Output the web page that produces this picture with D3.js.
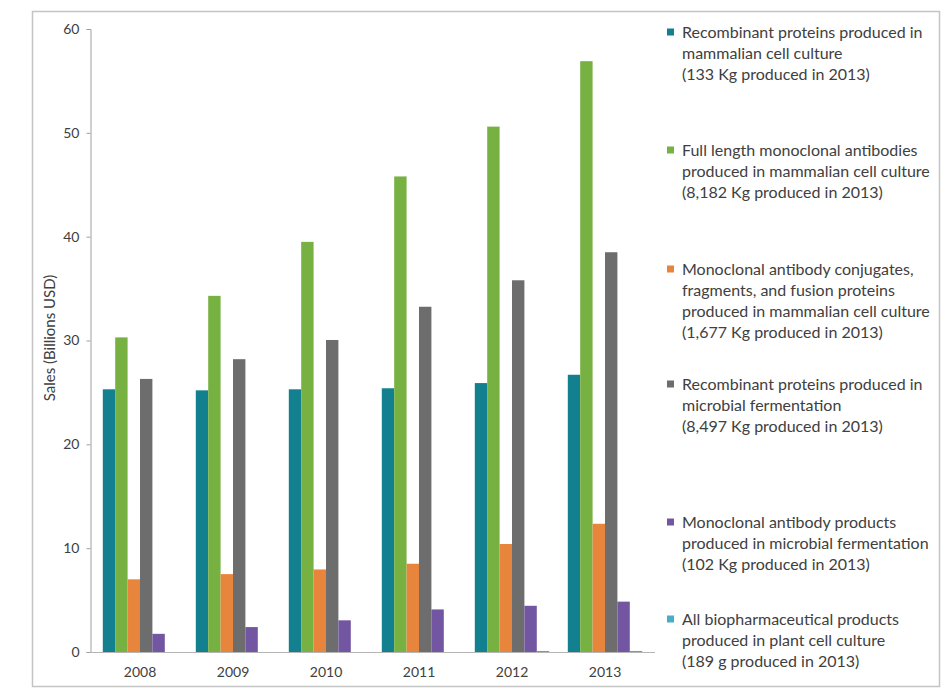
<!DOCTYPE html>
<html>
<head>
<meta charset="utf-8">
<script src="https://cdn.jsdelivr.net/npm/d3@7"></script>
<style>
  html, body { margin: 0; padding: 0; background: #ffffff; }
  svg { display: block; }
  text { font-family: Lato, "Open Sans", "Liberation Sans", sans-serif; fill: #404040; }
</style>
</head>
<body>
<svg id="chart" width="949" height="695"></svg>
<script>
// ---------- data ----------
const years = ["2008", "2009", "2010", "2011", "2012", "2013"];
const yTicks = [0, 10, 20, 30, 40, 50, 60];
const yTitle = "Sales (Billions USD)";

const recombinantMammalian = [25.3, 25.2, 25.3, 25.4, 25.9, 26.7];
const fullLengthMab        = [30.3, 34.3, 39.5, 45.8, 50.6, 56.9];
const mabConjugates        = [7.0, 7.5, 7.95, 8.5, 10.4, 12.35];
const recombinantMicrobial = [26.3, 28.2, 30.05, 33.25, 35.8, 38.5];
const mabMicrobial         = [1.75, 2.4, 3.05, 4.1, 4.45, 4.85];
const plantCell            = [0, 0, 0, 0, 0.1, 0.1];

const seriesLabels = [
  ["Recombinant proteins produced in", "mammalian cell culture", "(133 Kg produced in 2013)"],
  ["Full length monoclonal antibodies", "produced in mammalian cell culture", "(8,182 Kg produced in 2013)"],
  ["Monoclonal antibody conjugates,", "fragments, and fusion proteins", "produced in mammalian cell culture", "(1,677 Kg produced in 2013)"],
  ["Recombinant proteins produced in", "microbial fermentation", "(8,497 Kg produced in 2013)"],
  ["Monoclonal antibody products", "produced in microbial fermentation", "(102 Kg produced in 2013)"],
  ["All biopharmaceutical products", "produced in plant cell culture", "(189 g produced in 2013)"]
];
const seriesColors = ["#12808f", "#77b142", "#e8853c", "#6d6d6d", "#7356a1", "#4bacc6"];

const seriesValues = [recombinantMammalian, fullLengthMab, mabConjugates, recombinantMicrobial, mabMicrobial, plantCell];
const series = seriesValues.map((vals, i) => ({ key: "s" + i, values: vals, color: seriesColors[i], label: seriesLabels[i] }));

// ---------- layout ----------
const svg = d3.select("#chart");

svg.append("rect")
  .attr("x", 32.5).attr("y", 11.5).attr("width", 907).attr("height", 675)
  .attr("fill", "#ffffff").attr("stroke", "#c4c4c4").attr("stroke-width", 1.5);

const x0 = d3.scaleBand().domain(years).range([93.5, 651.5]).paddingInner(0).paddingOuter(0);
const x1 = d3.scaleBand().domain(series.map(s => s.key)).range([9.3, x0.bandwidth() - 9.3]).padding(0);
const y = d3.scaleLinear().domain([0, 60]).range([652, 29]);

const axisFont = "Lato, 'Open Sans', sans-serif";

// y axis
const yAxis = svg.append("g").attr("transform", "translate(90.5,0)")
  .call(d3.axisLeft(y).tickValues(yTicks).tickSize(4).tickPadding(7));
yAxis.select(".domain").attr("stroke", "#a0a0a0");
yAxis.selectAll(".tick line").attr("stroke", "#a0a0a0");
yAxis.selectAll(".tick text").attr("font-size", 14).attr("fill", "#404040")
  .style("font-family", axisFont);

// bars
const groups = svg.append("g").selectAll("g")
  .data(years).join("g")
  .attr("transform", d => `translate(${x0(d)},0)`);

groups.selectAll("rect")
  .data((yr, j) => series.map(s => ({ key: s.key, value: s.values[j], color: s.color })))
  .join("rect")
  .attr("x", d => x1(d.key))
  .attr("width", x1.bandwidth())
  .attr("y", d => y(d.value))
  .attr("height", d => y(0) - y(d.value))
  .attr("fill", d => d.color);

// x axis
const xAxis = svg.append("g").attr("transform", "translate(0,652.5)")
  .call(d3.axisBottom(x0).tickSize(0).tickPadding(15));
xAxis.select(".domain").remove();
svg.append("line").attr("x1", 90).attr("x2", 655).attr("y1", 652.5).attr("y2", 652.5)
  .attr("stroke", "#b5b5b5").attr("stroke-width", 1);
xAxis.selectAll(".tick text").attr("font-size", 14).attr("fill", "#404040")
  .style("font-family", axisFont);

// y title
svg.append("text")
  .attr("transform", "translate(55,338) rotate(-90)")
  .attr("text-anchor", "middle")
  .attr("font-size", 15)
  .text(yTitle);

// legend
const legendFirstLineY = [32, 150, 269, 384, 522, 619];
const lineStep = 21.2;
const legendFont = 16;
const legend = svg.append("g");
series.forEach((s, i) => {
  const g = legend.append("g");
  g.append("rect")
    .attr("x", 667).attr("y", legendFirstLineY[i] - 3.5)
    .attr("width", 7).attr("height", 7)
    .attr("fill", s.color);
  s.label.forEach((line, k) => {
    g.append("text")
      .attr("x", 682)
      .attr("y", legendFirstLineY[i] + k * lineStep)
      .attr("dy", "0.35em")
      .attr("font-size", legendFont)
      .text(line);
  });
});
</script>
</body>
</html>
